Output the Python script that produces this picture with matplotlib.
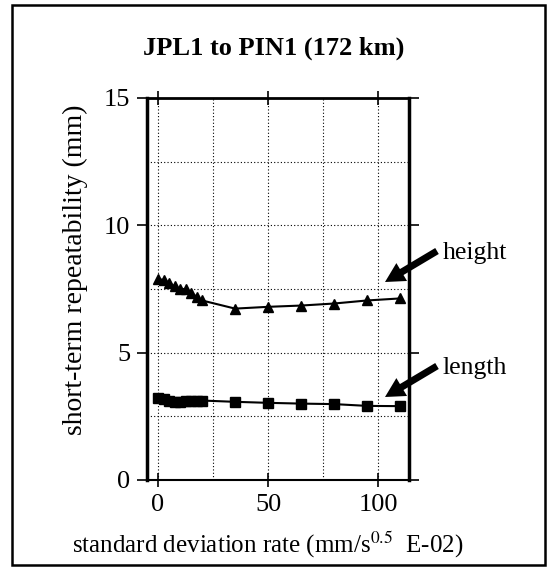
import matplotlib
matplotlib.use("Agg")
import matplotlib.pyplot as plt
from matplotlib.patches import Rectangle, FancyArrowPatch

rate = [0, 2.5, 5, 7.5, 10, 12.5, 15, 17.5, 20, 35, 50, 65, 80, 95, 110]
height = [7.9, 7.85, 7.75, 7.6, 7.5, 7.5, 7.35, 7.2, 7.05, 6.73, 6.8, 6.85, 6.93, 7.05, 7.13]
length = [3.22, 3.2, 3.12, 3.08, 3.08, 3.1, 3.12, 3.12, 3.12, 3.07, 3.03, 3.0, 2.98, 2.91, 2.9]
x_ticks = [0, 50, 100]
y_ticks = [0, 5, 10, 15]

plt.rcParams['font.family'] = ['Liberation Serif', 'DejaVu Serif']
plt.rcParams['mathtext.fontset'] = 'stix'

W, H = 551, 568
fig = plt.figure(figsize=(W / 100, H / 100), dpi=100)
fig.patch.set_facecolor('white')

# outer frame
fig.patches.append(Rectangle((12 / W, 1 - 565 / H), (545 - 12) / W, (565 - 5) / H,
                             transform=fig.transFigure, fill=False, lw=1.8, ec='black'))

ax = fig.add_axes([147 / W, 1 - 480 / H, (409 - 147) / W, (480 - 98) / H])
ax.set_xlim(-5, 114)
ax.set_ylim(0, 15)

ax.plot(rate, height, color='black', lw=1.5, marker='^', ms=6.5)
ax.plot(rate, length, color='black', lw=1.5, marker='s', ms=6.5)

for x in [0, 25, 50, 75, 100]:
    ax.axvline(x, color='black', lw=0.8, ls=(0, (1, 2)), zorder=0)
for y in [2.5, 5, 7.5, 10, 12.5]:
    ax.axhline(y, color='black', lw=0.8, ls=(0, (1, 2)), zorder=0)

ax.set_xticks(x_ticks)
ax.set_yticks(y_ticks)
ax.tick_params(axis='both', labelsize=19, length=7, width=1.2, direction='out', color='black', pad=5)
ax.tick_params(axis='x', top=True, direction='inout', length=10)
ax.tick_params(axis='y', right=True, labelright=False)
ax.tick_params(axis='x', labeltop=False)
ax.spines['left'].set_linewidth(2.5)
ax.spines['right'].set_linewidth(2.5)
ax.spines['top'].set_linewidth(2.0)
ax.spines['bottom'].set_linewidth(1.5)

ax.set_xlabel(r'standard deviation rate (mm/s$^{0.5}$  E-02)', fontsize=18)
ax.xaxis.set_label_coords((268 - 147) / (409 - 147), -(545 - 480) / (480 - 98))
ax.xaxis.label.set_va('center')
ax.set_ylabel('short-term repeatability (mm)', fontsize=20)
ax.yaxis.set_label_coords(-(147 - 75) / (409 - 147), (480 - 270) / (480 - 98))
ax.yaxis.label.set_va('center')

fig.text(274 / W, 1 - 48 / H, 'JPL1 to PIN1 (172 km)', ha='center', va='center',
         fontsize=19, fontweight='bold')

# arrows and labels
for (tx, ty), (hx, hy), label in [((437, 251), (385, 282), 'height'),
                                   ((437, 366), (385, 397), 'length')]:
    fig.add_artist(FancyArrowPatch(
        (tx / W, 1 - ty / H), (hx / W, 1 - hy / H), transform=fig.transFigure,
        arrowstyle='simple,head_length=14,head_width=15,tail_width=5', lw=0,
        color='black', mutation_scale=1, shrinkA=0, shrinkB=0))
    fig.text(443 / W, 1 - (ty + 2) / H, label, ha='left', va='center', fontsize=18.5)

fig.savefig('out.png', dpi=100)
